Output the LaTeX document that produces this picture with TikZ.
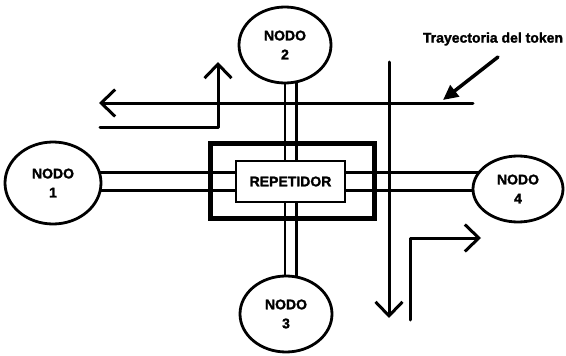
\documentclass[tikz,border=0pt]{standalone}
\usepackage{fontspec}
\setmainfont{Liberation Sans}
\newfontfamily\heavyfont[FakeBold=1.6]{Liberation Sans Bold}
\usetikzlibrary{shapes.geometric,arrows.meta,backgrounds}
\begin{document}
\begin{tikzpicture}[x=1pt,y=-1pt,
  nodo/.style={ellipse, draw, line width=2.8pt, fill=white, inner sep=0pt,
    align=center, font=\fontsize{14}{19}\selectfont\heavyfont},
  dblh/.style={line width=2.5pt, double=white, double distance=15.5pt},
  dblv/.style={line width=2.5pt, double=white, double distance=9pt},
  tok/.style={line width=3pt, line cap=round, line join=round},
  barb/.style={-{Straight Barb[length=14pt,width=27pt,line width=3pt]}},
  lbltxt/.style={font=\fontsize{14}{16}\selectfont\heavyfont, inner sep=0pt}]
\useasboundingbox (0,0) rectangle (566,356);
% nodes
\node[nodo, minimum width=96pt, minimum height=82pt] (n1) at (53,183) {NODO\\1};
\node[nodo, minimum width=92pt, minimum height=76pt] (n2) at (285,45) {NODO\\2};
\node[nodo, minimum width=92pt, minimum height=76pt] (n3) at (286,314) {NODO\\3};
\node[nodo, minimum width=90pt, minimum height=66pt] (n4) at (518,189) {NODO\\4};
\node[draw, line width=5pt, minimum width=164pt, minimum height=75pt, inner sep=0pt] (outer) at (292,180.5) {};
\node[draw, line width=2.5pt, fill=white, minimum width=109pt, minimum height=41pt, inner sep=0pt,
  font=\fontsize{14}{16}\selectfont\heavyfont] (rep) at (290.5,181.5) {REPETIDOR};
% double links
\begin{pgfonlayer}{background}
\draw[dblh] (rep.west -| n1.center) -- (rep.west);
\draw[dblh] (rep.east) -- (rep.east -| n4.center);
\draw[dblv] (rep.north) -- (rep.north |- n2.center);
\draw[dblv] (rep.south) -- (rep.south |- n3.center);
\end{pgfonlayer}
% token trajectory
\draw[tok, barb] (473,103) -- (99,103);
\draw[tok, barb] (100,127) -- (218,127) -- (218,62);
\draw[tok, barb] (389,62) -- (389,318);
\draw[tok, barb] (410,320) -- (410,238) -- (481,238);
% label
\node[lbltxt] (lbl) at (493,39) {Trayectoria del token};
\coordinate (lblstart) at (498,57);
\coordinate (lblend) at (443,100);
\draw[line width=3.5pt, line cap=round, -{Triangle[length=15pt,width=14pt]}] (lblstart) -- (lblend);
\end{tikzpicture}
\end{document}
